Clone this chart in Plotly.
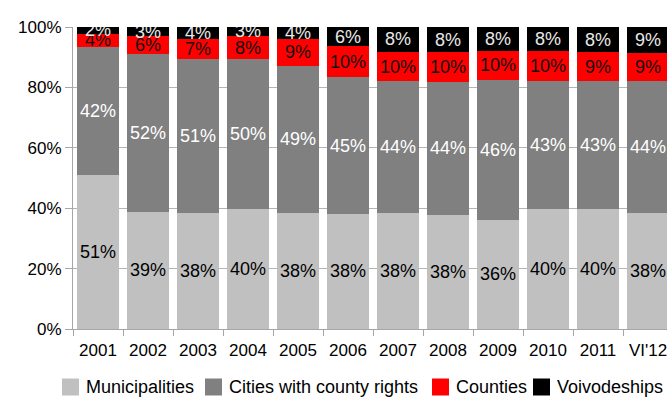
import plotly.graph_objects as go

# Share of each tier of local government, per year (percent)
years = ["2001", "2002", "2003", "2004", "2005", "2006", "2007", "2008",
         "2009", "2010", "2011", "VI'12"]
municipalities = [51.0, 38.8, 38.4, 39.6, 38.4, 38.1, 38.4, 37.7, 36.1, 39.6, 39.6, 38.4]
cities_county = [42.4, 52.3, 51.0, 49.7, 48.8, 45.3, 43.6, 44.2, 46.4, 42.6, 42.6, 43.6]
counties = [4.3, 5.8, 6.6, 7.8, 8.8, 10.2, 9.8, 9.8, 9.7, 9.8, 9.4, 9.4]
voivodeships = [2.3, 3.1, 4.0, 2.9, 4.0, 6.4, 8.2, 8.3, 7.8, 8.0, 8.4, 8.6]

series_names = ["Municipalities", "Cities with county rights", "Counties", "Voivodeships"]
series_values = [municipalities, cities_county, counties, voivodeships]
fill_colors = ["#c0c0c0", "#808080", "#ff0000", "#000000"]
label_colors = ["#000000", "#ffffff", "#101010", "#e8e8e8"]

FONT = "Liberation Sans, Arial, sans-serif"

W, H = 667, 397
ML, MR, MT, MB = 73, 0, 27, 68
plot_w = W - ML - MR
plot_h = H - MT - MB

fig = go.Figure()
for name, vals, color, txtcolor in zip(series_names, series_values, fill_colors, label_colors):
    fig.add_trace(go.Bar(
        name=name,
        x=years,
        y=vals,
        marker=dict(color=color, line=dict(width=0)),
        texttemplate="%{y:.0f}%",
        textposition="inside",
        insidetextanchor="middle",
        textangle=0,
        textfont=dict(family=FONT, size=18, color=txtcolor),
        cliponaxis=True,
        showlegend=False,
    ))

# Legend row drawn below the category labels: a square swatch and its caption
legend_swatch_left = [62, 205, 432, 533]
legend_text_left = [84, 227, 454, 555]
swatch_size = 17
legend_center_y = 387


def px_to_paper_x(px):
    return (px - ML) / plot_w


def px_to_paper_y(py):
    return (H - MB - py) / plot_h


shapes = []
annotations = []
for name, color, sx, tx in zip(series_names, fill_colors, legend_swatch_left, legend_text_left):
    shapes.append(dict(
        type="rect", xref="paper", yref="paper",
        x0=px_to_paper_x(sx), x1=px_to_paper_x(sx + swatch_size),
        y0=px_to_paper_y(legend_center_y + swatch_size / 2),
        y1=px_to_paper_y(legend_center_y - swatch_size / 2),
        fillcolor=color, line=dict(width=0),
    ))
    annotations.append(dict(
        text=name, xref="paper", yref="paper",
        x=px_to_paper_x(tx), y=px_to_paper_y(legend_center_y),
        xanchor="left", yanchor="middle", showarrow=False,
        font=dict(family=FONT, size=18, color="#000000"),
    ))

fig.update_layout(
    barmode="stack",
    bargap=0.16,
    width=W,
    height=H,
    margin=dict(l=ML, r=MR, t=MT, b=MB, autoexpand=False),
    paper_bgcolor="white",
    plot_bgcolor="white",
    uniformtext=dict(minsize=18, mode="show"),
    showlegend=False,
    shapes=shapes,
    annotations=annotations,
)

fig.update_xaxes(
    type="category",
    categoryorder="array",
    categoryarray=years,
    range=[-0.5, 11.38],
    automargin=False,
    showline=True,
    linecolor="#a6a6a6",
    linewidth=1,
    ticks="outside",
    tickson="boundaries",
    ticklen=6,
    tickcolor="#a6a6a6",
    tickangle=0,
    tickfont=dict(family=FONT, size=17, color="#000000"),
    ticklabelstandoff=6,
    showgrid=False,
)

fig.update_yaxes(
    range=[0, 100],
    dtick=20,
    ticksuffix="%",
    automargin=False,
    showline=True,
    linecolor="#a6a6a6",
    linewidth=1,
    ticks="outside",
    ticklen=7,
    tickcolor="#a6a6a6",
    tickfont=dict(family=FONT, size=17, color="#000000"),
    showgrid=True,
    gridcolor="#b4b4b4",
    gridwidth=1,
    zeroline=False,
)

fig.write_html("out.html")
